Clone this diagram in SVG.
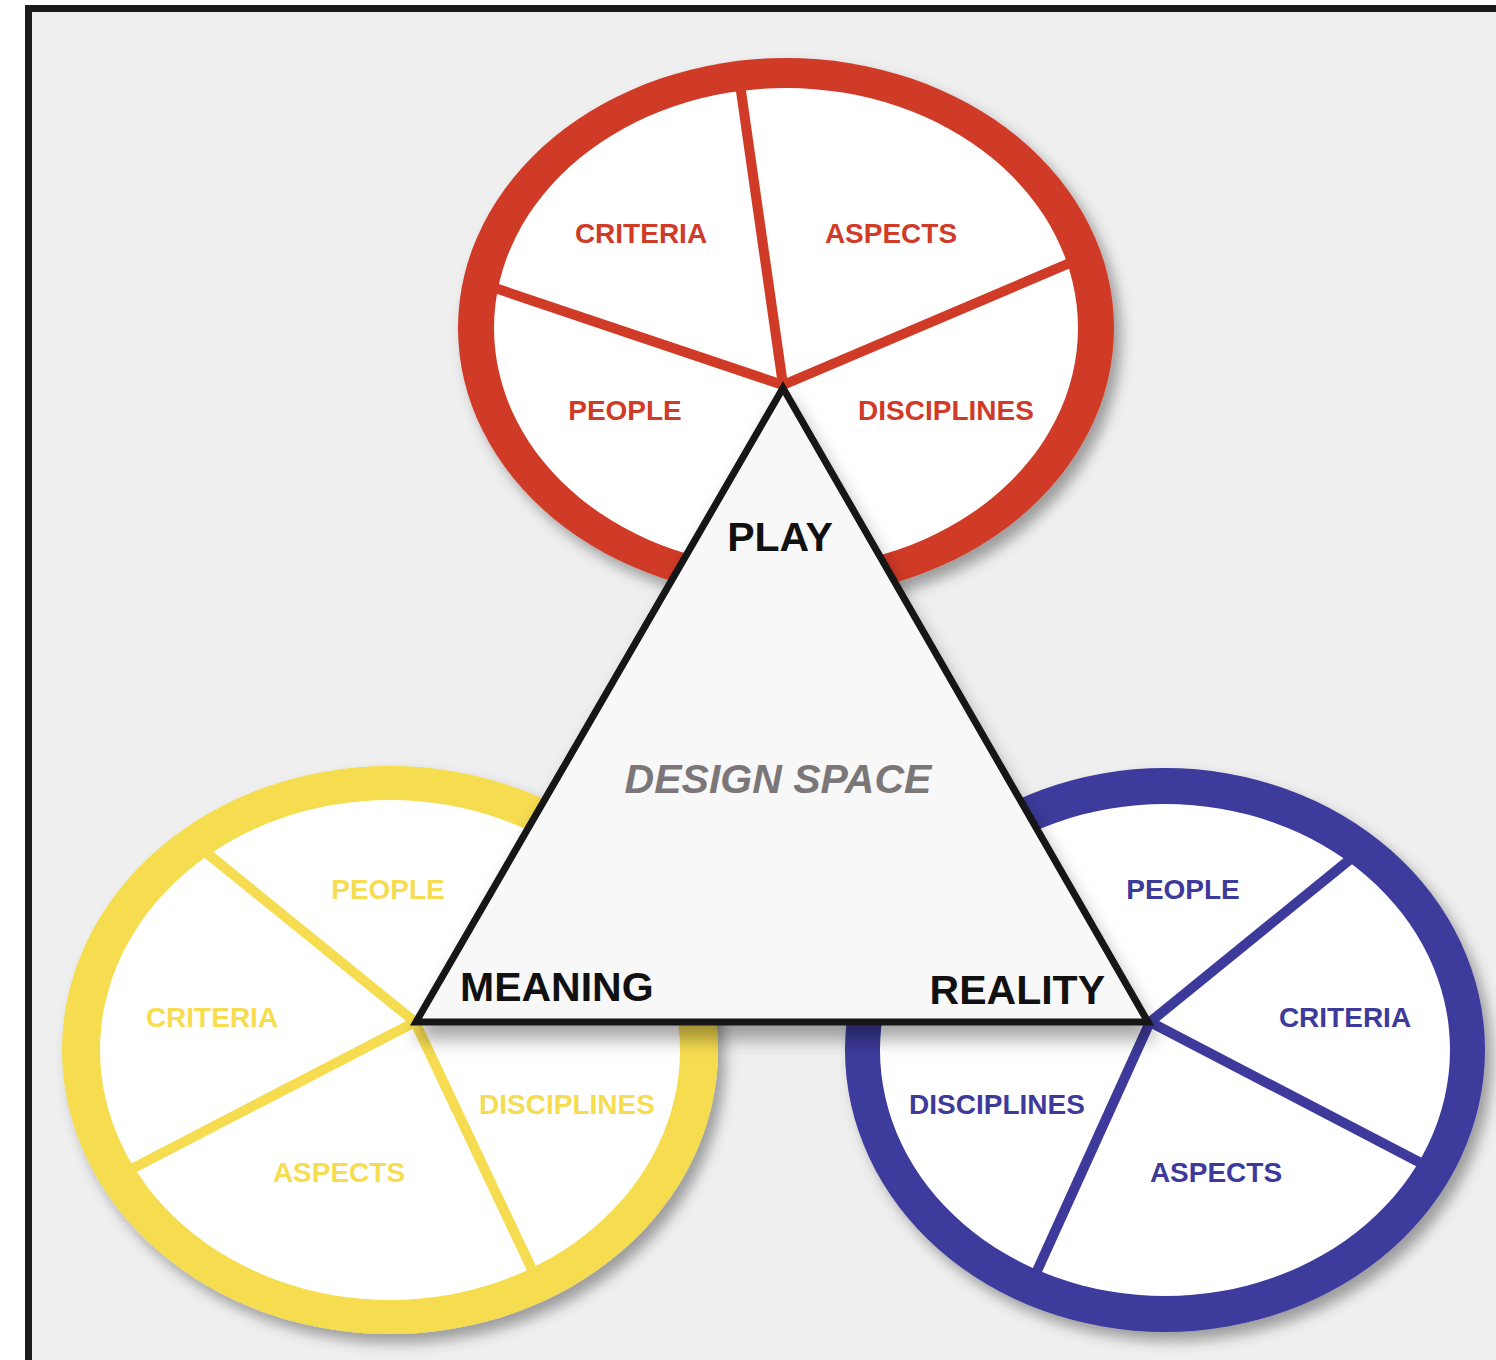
<svg xmlns="http://www.w3.org/2000/svg" width="1496" height="1360" viewBox="0 0 1496 1360">
<defs>
<filter id="sh" x="-20%" y="-20%" width="140%" height="140%">
<feDropShadow dx="7" dy="9" stdDeviation="7" flood-color="#000" flood-opacity="0.35"/>
</filter>
<filter id="tsh" x="-10%" y="-10%" width="120%" height="130%">
<feDropShadow dx="4" dy="14" stdDeviation="9" flood-color="#000" flood-opacity="0.35"/>
</filter>
<style>
.lbl{font-family:"Liberation Sans",Arial,sans-serif;font-weight:bold;font-size:28px;text-anchor:middle}
.big{font-family:"Liberation Sans",Arial,sans-serif;font-weight:bold;font-size:41px;fill:#111}
.red{fill:#cf3b27}.redS{stroke:#cf3b27}
.yel{fill:#f6dc50}.yelS{stroke:#f6dc50}
.blu{fill:#3e3a9b}.bluS{stroke:#3e3a9b}
.spoke{stroke-width:10;stroke-linecap:butt;fill:none}
.inner{fill:#ffffff}
</style>
</defs>
<rect x="0" y="0" width="1496" height="1360" fill="#ffffff"/>
<rect id="frame" x="28.5" y="8.5" width="1480" height="1370" fill="#efefef" stroke="#1a1a1a" stroke-width="7"/>

<g id="play-circle">
<g filter="url(#sh)"><ellipse cx="786" cy="328" rx="328" ry="270" class="red"/></g>
<ellipse cx="786" cy="328" rx="292" ry="240" class="inner"/>
<g class="connectors">
<line x1="783" y1="385" x2="738" y2="70" class="spoke redS"/>
<line x1="783" y1="385" x2="480" y2="283" class="spoke redS"/>
<line x1="783" y1="385" x2="1084" y2="257" class="spoke redS"/>
</g>
<text x="641" y="243" class="lbl red">CRITERIA</text>
<text x="891" y="243" class="lbl red">ASPECTS</text>
<text x="625" y="420" class="lbl red">PEOPLE</text>
<text x="946" y="420" class="lbl red">DISCIPLINES</text>
</g>

<g id="meaning-circle">
<g filter="url(#sh)"><ellipse cx="390" cy="1050" rx="328" ry="284" class="yel"/></g>
<ellipse cx="390" cy="1050" rx="290" ry="250" class="inner"/>
<g class="connectors">
<line x1="415" y1="1022" x2="198" y2="846" class="spoke yelS"/>
<line x1="415" y1="1022" x2="120" y2="1175" class="spoke yelS"/>
<line x1="415" y1="1022" x2="536" y2="1278" class="spoke yelS"/>
</g>
<text x="388" y="899" class="lbl yel">PEOPLE</text>
<text x="212" y="1027" class="lbl yel">CRITERIA</text>
<text x="339" y="1182" class="lbl yel">ASPECTS</text>
<text x="567" y="1114" class="lbl yel">DISCIPLINES</text>
</g>

<g id="reality-circle">
<g filter="url(#sh)"><ellipse cx="1165" cy="1050" rx="320" ry="282" class="blu"/></g>
<ellipse cx="1165" cy="1050" rx="285" ry="246" class="inner"/>
<g class="connectors">
<line x1="1150" y1="1022" x2="1364" y2="848" class="spoke bluS"/>
<line x1="1150" y1="1022" x2="1440" y2="1173" class="spoke bluS"/>
<line x1="1150" y1="1022" x2="1032" y2="1282" class="spoke bluS"/>
</g>
<text x="1183" y="899" class="lbl blu">PEOPLE</text>
<text x="1345" y="1027" class="lbl blu">CRITERIA</text>
<text x="1216" y="1182" class="lbl blu">ASPECTS</text>
<text x="997" y="1114" class="lbl blu">DISCIPLINES</text>
</g>

<g id="design-space">
<g filter="url(#tsh)"><polygon points="783,388 416,1022 1148,1022" fill="#f8f8f8" stroke="#141414" stroke-width="7" stroke-linejoin="miter"/></g>
<text x="780" y="551" class="big" text-anchor="middle" font-size="40">PLAY</text>
<text x="460" y="1001" class="big">MEANING</text>
<text x="1105" y="1004" class="big" text-anchor="end">REALITY</text>
<text x="778" y="793" font-family="'Liberation Sans',Arial,sans-serif" font-weight="bold" font-style="italic" font-size="41" fill="#7b7678" text-anchor="middle">DESIGN SPACE</text>
</g>
</svg>
